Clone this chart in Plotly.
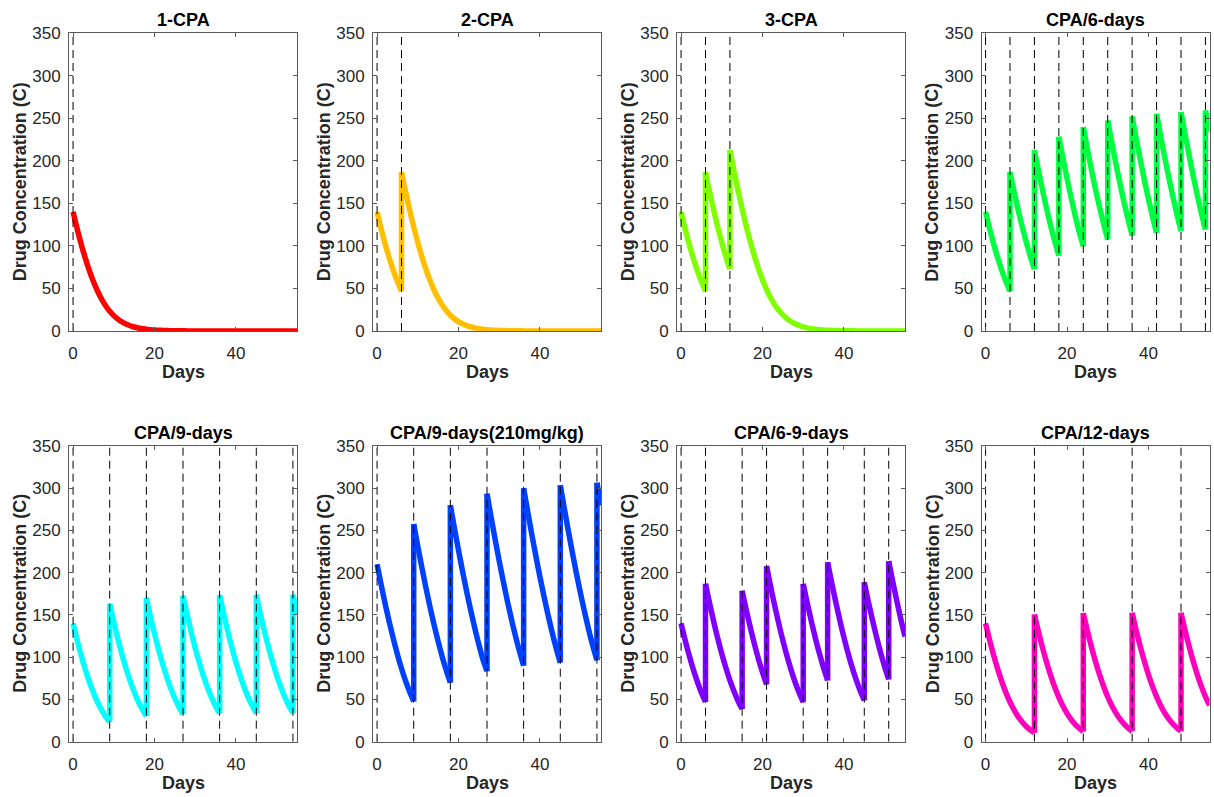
import plotly.graph_objects as go

# ---------------- data ----------------
days = list(range(56))

titles = ["1-CPA", "2-CPA", "3-CPA", "CPA/6-days",
          "CPA/9-days", "CPA/9-days(210mg/kg)", "CPA/6-9-days", "CPA/12-days"]

colors = ["#FF0000", "#FFBF00", "#80FF00", "#00FF40",
          "#00FFFF", "#0040FF", "#8000FF", "#FF00BF"]

# dosing days (dashed lines)
doses_1 = [0]
doses_2 = [0, 6]
doses_3 = [0, 6, 12]
doses_4 = [0, 6, 12, 18, 24, 30, 36, 42, 48, 54]
doses_5 = [0, 9, 18, 27, 36, 45, 54]
doses_6 = [0, 9, 18, 27, 36, 45, 54]
doses_7 = [0, 6, 15, 21, 30, 36, 45, 51]
doses_8 = [0, 12, 24, 36, 48]

# concentration just before each dose
trough_1 = [0.0]
trough_2 = [0.0, 47.0]
trough_3 = [0.0, 47.0, 72.6]
trough_4 = [0.0, 47.0, 72.6, 88.4, 99.7, 107.5, 112.2, 115.4, 117.6, 119.2]
trough_5 = [0.0, 23.3, 30.3, 32.7, 33.5, 33.8, 33.9]
trough_6 = [0.0, 47.7, 69.8, 83.5, 89.9, 93.6, 96.5]
trough_7 = [0.0, 47.0, 38.6, 67.8, 46.8, 72.5, 48.8, 73.7]
trough_8 = [0.0, 10.7, 12.2, 12.5, 12.5]

# concentration at each day (after the dose on dosing days)
conc_1 = [140.0, 120.2, 102.0, 85.6, 71.0, 58.1, 47.0, 37.6, 29.7, 23.3, 18.1, 13.9, 10.7, 8.1,
          6.2, 4.7, 3.5, 2.7, 2.0, 1.5, 1.1, 0.9, 0.6, 0.5, 0.4, 0.3, 0.2, 0.2,
          0.1, 0.1, 0.1, 0.0, 0.0, 0.0, 0.0, 0.0, 0.0, 0.0, 0.0, 0.0, 0.0, 0.0,
          0.0, 0.0, 0.0, 0.0, 0.0, 0.0, 0.0, 0.0, 0.0, 0.0, 0.0, 0.0, 0.0, 0.0]
conc_2 = [140.0, 120.2, 102.0, 85.6, 71.0, 58.1, 187.0, 164.0, 142.5, 122.5, 104.2, 87.5, 72.6, 59.6,
          48.2, 38.6, 30.6, 24.0, 18.6, 14.4, 11.0, 8.4, 6.4, 4.8, 3.7, 2.8, 2.1, 1.6,
          1.2, 0.9, 0.7, 0.5, 0.4, 0.3, 0.2, 0.2, 0.1, 0.1, 0.1, 0.0, 0.0, 0.0,
          0.0, 0.0, 0.0, 0.0, 0.0, 0.0, 0.0, 0.0, 0.0, 0.0, 0.0, 0.0, 0.0, 0.0]
conc_3 = [140.0, 120.2, 102.0, 85.6, 71.0, 58.1, 187.0, 164.0, 142.5, 122.5, 104.2, 87.5, 212.6, 188.3,
          165.3, 143.7, 123.6, 105.2, 88.4, 73.4, 60.3, 48.8, 39.1, 31.0, 24.3, 18.9, 14.6, 11.2,
          8.6, 6.5, 4.9, 3.7, 2.8, 2.1, 1.6, 1.2, 0.9, 0.7, 0.5, 0.4, 0.3, 0.2,
          0.2, 0.1, 0.1, 0.1, 0.1, 0.0, 0.0, 0.0, 0.0, 0.0, 0.0, 0.0, 0.0, 0.0]
conc_4 = [140.0, 120.2, 102.0, 85.6, 71.0, 58.1, 187.0, 164.0, 142.5, 122.5, 104.2, 87.5, 212.6, 188.3,
          165.3, 143.7, 123.6, 105.2, 228.4, 203.3, 179.5, 157.0, 136.0, 116.5, 239.7, 214.1, 189.8, 166.7,
          145.6, 126.0, 247.5, 221.7, 197.0, 173.6, 151.6, 131.1, 252.2, 226.2, 201.3, 177.7, 155.4, 134.6,
          255.4, 229.2, 204.2, 180.4, 158.0, 137.0, 257.6, 231.4, 206.3, 182.4, 159.8, 138.7, 259.2, 234.5]
conc_5 = [140.0, 120.2, 102.0, 85.6, 71.0, 58.1, 47.0, 37.6, 29.7, 163.3, 141.8, 121.9, 103.6, 87.0,
          72.2, 59.1, 47.9, 38.3, 170.3, 148.4, 128.0, 109.1, 92.0, 76.6, 63.0, 51.2, 41.2, 172.7,
          150.6, 130.0, 111.0, 93.7, 78.1, 64.4, 52.4, 42.1, 173.5, 151.4, 130.7, 111.7, 94.3, 78.7,
          64.8, 52.8, 42.5, 173.8, 151.6, 131.0, 111.9, 94.5, 78.8, 65.0, 52.9, 42.6, 173.9, 151.7]
conc_6 = [210.0, 185.8, 162.9, 141.5, 121.6, 103.3, 86.7, 72.0, 59.0, 257.7, 231.4, 206.2, 182.2, 159.5,
          138.3, 118.7, 100.6, 84.3, 279.8, 252.7, 226.6, 201.6, 177.8, 155.4, 134.5, 115.1, 97.4, 293.5,
          265.9, 239.4, 213.9, 189.6, 166.6, 145.1, 125.0, 106.6, 299.9, 272.2, 245.4, 219.7, 195.1, 171.8,
          149.9, 129.5, 110.7, 303.6, 275.8, 248.8, 223.0, 198.2, 174.8, 152.7, 132.1, 113.1, 306.5, 280.0]
conc_7 = [140.0, 120.2, 102.0, 85.6, 71.0, 58.1, 187.0, 164.0, 142.5, 122.5, 104.2, 87.5, 72.6, 59.6,
          48.2, 178.6, 156.2, 135.2, 115.8, 98.0, 82.0, 207.8, 183.7, 160.9, 139.6, 119.9, 101.7, 85.3,
          70.7, 57.9, 186.8, 163.9, 142.4, 122.4, 104.0, 87.4, 212.5, 188.2, 165.2, 143.6, 123.5, 105.1,
          88.3, 73.4, 60.2, 188.8, 165.7, 144.1, 124.0, 105.5, 88.7, 213.7, 189.3, 166.3, 144.6, 124.4]
conc_8 = [140.0, 120.2, 102.0, 85.6, 71.0, 58.1, 47.0, 37.6, 29.7, 23.3, 18.1, 13.9, 150.7, 130.1,
          111.1, 93.8, 78.2, 64.4, 52.4, 42.2, 33.5, 26.4, 20.6, 15.9, 152.2, 131.5, 112.4, 95.0,
          79.3, 65.4, 53.2, 42.8, 34.1, 26.9, 21.0, 16.2, 152.5, 131.7, 112.6, 95.1, 79.4, 65.5,
          53.4, 42.9, 34.2, 26.9, 21.0, 16.3, 152.5, 131.8, 112.6, 95.2, 79.5, 65.5, 53.4, 43.0]

y_ticks = [0, 50, 100, 150, 200, 250, 300, 350]
x_ticks = [0, 20, 40]

all_doses = [doses_1, doses_2, doses_3, doses_4, doses_5, doses_6, doses_7, doses_8]
all_troughs = [trough_1, trough_2, trough_3, trough_4, trough_5, trough_6, trough_7, trough_8]
all_conc = [conc_1, conc_2, conc_3, conc_4, conc_5, conc_6, conc_7, conc_8]

# ---------------- layout geometry ----------------
W, H = 1214, 797
col_left = [69, 373, 677, 981.5]
col_w = 228
row_top = [33.3, 446]
row_bot = [331, 741.7]

FONT = "Liberation Sans, Arial, Helvetica, sans-serif"
AX_COLOR = "#262626"
BOX_COLOR = "#5a5a5a"

fig = go.Figure()
layout = dict(width=W, height=H, margin=dict(l=0, r=0, t=0, b=0, pad=0),
              paper_bgcolor="white", plot_bgcolor="white", showlegend=False,
              annotations=[])

for i in range(8):
    r, c = divmod(i, 4)
    n = i + 1
    xa = "x" if n == 1 else f"x{n}"
    ya = "y" if n == 1 else f"y{n}"
    x0 = col_left[c] / W
    x1 = (col_left[c] + col_w) / W
    y0 = 1 - row_bot[r] / H
    y1 = 1 - row_top[r] / H

    doses, troughs, conc = all_doses[i], all_troughs[i], all_conc[i]
    # smooth decay between doses (gap at every dose), jumps drawn straight
    sx, sy, jx, jy = [], [], [], []
    for d, v in zip(days, conc):
        if d in doses and d > 0:
            t = troughs[doses.index(d)]
            sx += [d, None]
            sy += [t, None]
            jx += [d, d, None]
            jy += [t, v, None]
        sx.append(d)
        sy.append(v)
    fig.add_trace(go.Scatter(x=sx, y=sy, mode="lines", xaxis=xa, yaxis=ya,
                             line=dict(color=colors[i], width=5.5, shape="spline", smoothing=1),
                             connectgaps=False, hoverinfo="skip"))
    fig.add_trace(go.Scatter(x=jx, y=jy, mode="lines", xaxis=xa, yaxis=ya,
                             line=dict(color=colors[i], width=5.5),
                             hoverinfo="skip"))
    # dashed dosing lines
    dx, dy = [], []
    for d in doses:
        dx += [d, d, None]
        dy += [y_ticks[0], y_ticks[-1], None]
    fig.add_trace(go.Scatter(x=dx, y=dy, mode="lines", xaxis=xa, yaxis=ya,
                             line=dict(color="black", width=1, dash="8px,5px"),
                             hoverinfo="skip"))

    common = dict(showline=True, linecolor=BOX_COLOR, linewidth=1, mirror="allticks",
                  ticks="inside", ticklen=4, tickwidth=1, tickcolor=BOX_COLOR,
                  showgrid=False, zeroline=False, automargin=False,
                  tickfont=dict(family=FONT, size=17, color=AX_COLOR))
    layout["xaxis" if n == 1 else f"xaxis{n}"] = dict(
        domain=[x0, x1], anchor=ya, range=[-1, 55], tickvals=x_ticks,
        ticklabelstandoff=7, **common)
    layout["yaxis" if n == 1 else f"yaxis{n}"] = dict(
        domain=[y0, y1], anchor=xa, range=[0, 350], tickvals=y_ticks,
        ticklabelstandoff=4, **common)

    xc = (x0 + x1) / 2
    layout["annotations"].append(dict(
        text=f"<b>{titles[i]}</b>", x=xc, y=1 - (row_top[r] - 13) / H,
        xref="paper", yref="paper", showarrow=False, xanchor="center", yanchor="middle",
        font=dict(family=FONT, size=18, color="black")))
    layout["annotations"].append(dict(
        text="<b>Days</b>", x=xc, y=1 - (row_bot[r] + 41) / H,
        xref="paper", yref="paper", showarrow=False, xanchor="center", yanchor="middle",
        font=dict(family=FONT, size=18, color=AX_COLOR)))
    layout["annotations"].append(dict(
        text="<b>Drug Concentration (C)</b>", textangle=-90,
        x=(col_left[c] - 49) / W, y=1 - (row_top[r] + row_bot[r]) / 2 / H,
        xref="paper", yref="paper", showarrow=False, xanchor="center", yanchor="middle",
        font=dict(family=FONT, size=18, color=AX_COLOR)))

fig.update_layout(**layout)
fig.write_html("out.html")
